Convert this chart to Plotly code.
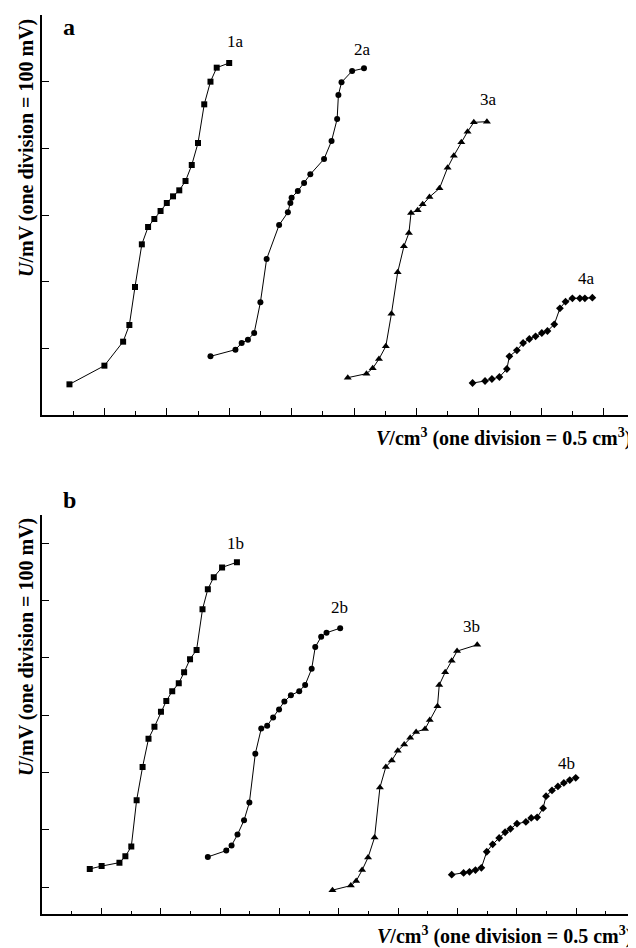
import plotly.graph_objects as go

# ---------------- data (V in cm3, U in mV) ----------------
# Panel a
v_1a = [0.22, 0.50, 0.65, 0.70, 0.745, 0.80, 0.85, 0.90, 0.95, 1.00, 1.05, 1.10, 1.15, 1.20, 1.25, 1.30, 1.35, 1.40, 1.50]
u_1a = [46, 74, 110, 135, 192, 256, 282, 294, 306, 318, 328, 337, 351, 375, 408, 466, 500, 521, 528]

v_2a = [1.35, 1.55, 1.60, 1.65, 1.70, 1.75, 1.80, 1.90, 1.97, 1.99, 2.00, 2.05, 2.10, 2.15, 2.26, 2.32, 2.365, 2.375, 2.40, 2.485, 2.58]
u_2a = [88, 98, 108, 113, 123, 169, 234, 285, 304, 318, 326, 336, 348, 361, 384, 411, 444, 480, 499, 516, 520]

v_3a = [2.45, 2.60, 2.65, 2.70, 2.755, 2.80, 2.85, 2.90, 2.94, 2.957, 3.01, 3.05, 3.105, 3.185, 3.25, 3.30, 3.36, 3.41, 3.46, 3.565]
u_3a = [56, 62, 70, 84, 103, 152, 214, 253, 273, 303, 307, 316, 327, 340, 371, 389, 409, 425, 439, 440]

v_4a = [3.45, 3.55, 3.605, 3.665, 3.725, 3.745, 3.805, 3.855, 3.905, 3.955, 4.005, 4.05, 4.105, 4.15, 4.195, 4.25, 4.31, 4.35, 4.41]
u_4a = [48, 51, 54, 57, 69, 88, 97, 108, 114, 118, 123, 126, 136, 160, 170, 175, 175, 175, 176]

# Panel b
v_1b = [0.40, 0.50, 0.65, 0.70, 0.75, 0.795, 0.845, 0.895, 0.945, 1.00, 1.045, 1.095, 1.15, 1.195, 1.245, 1.30, 1.35, 1.395, 1.445, 1.515, 1.64]
u_1b = [32, 37, 43, 54, 71, 152, 210, 259, 280, 306, 325, 342, 356, 375, 398, 414, 485, 520, 541, 558, 567]

v_2b = [1.395, 1.55, 1.595, 1.645, 1.70, 1.745, 1.795, 1.845, 1.895, 1.945, 1.995, 2.04, 2.095, 2.165, 2.215, 2.27, 2.30, 2.35, 2.395, 2.51]
u_2b = [53, 64, 73, 92, 117, 148, 233, 277, 282, 296, 310, 324, 335, 342, 353, 381, 419, 437, 444, 452]

v_3b = [2.445, 2.60, 2.645, 2.695, 2.745, 2.80, 2.845, 2.895, 2.945, 2.995, 3.05, 3.10, 3.15, 3.225, 3.265, 3.33, 3.345, 3.395, 3.45, 3.495, 3.665]
u_3b = [-5, 3, 11, 30, 52, 87, 174, 210, 221, 238, 249, 261, 271, 276, 292, 316, 353, 375, 395, 412, 423]

v_4b = [3.45, 3.55, 3.60, 3.65, 3.70, 3.745, 3.795, 3.85, 3.90, 3.945, 4.00, 4.075, 4.12, 4.17, 4.22, 4.245, 4.295, 4.345, 4.395, 4.445, 4.495]
u_4b = [22, 25, 27, 30, 34, 62, 75, 86, 96, 102, 111, 114, 121, 122, 138, 159, 169, 176, 182, 187, 191]

labels_a = ["1a", "2a", "3a", "4a"]
labels_b = ["1b", "2b", "3b", "4b"]
symbols = ["square", "circle", "triangle-up", "diamond"]
marker_sizes = [6, 6, 7, 6]

# the page body has an 8px margin, so the figure is offset by 8px
OFF = 8
W, H = 636 - OFF, 948 - OFF


def px(x):
    return (x - OFF) / W


def py(y):
    return 1 - (y - OFF) / H


fig = go.Figure()

series_a = [(v_1a, u_1a), (v_2a, u_2a), (v_3a, u_3a), (v_4a, u_4a)]
series_b = [(v_1b, u_1b), (v_2b, u_2b), (v_3b, u_3b), (v_4b, u_4b)]

for (v, u), sym, ms, name in zip(series_a, symbols, marker_sizes, labels_a):
    fig.add_trace(go.Scatter(x=v, y=u, mode="lines+markers", name=name,
                             line=dict(color="black", width=1),
                             marker=dict(symbol=sym, size=ms, color="black"),
                             xaxis="x", yaxis="y", showlegend=False))
for (v, u), sym, ms, name in zip(series_b, symbols, marker_sizes, labels_b):
    fig.add_trace(go.Scatter(x=v, y=u, mode="lines+markers", name=name,
                             line=dict(color="black", width=1),
                             marker=dict(symbol=sym, size=ms, color="black"),
                             xaxis="x2", yaxis="y2", showlegend=False))

axis_common = dict(showgrid=False, zeroline=False, showticklabels=False,
                   showline=True, linecolor="black", linewidth=1.5,
                   ticks="inside", ticklen=7, tickcolor="black", tickwidth=1.3)

xa = dict(axis_common, range=[0, (636 - 42) / 124.8], tick0=0, dtick=0.5,
          minor=dict(dtick=0.25, tick0=0, ticks="inside", ticklen=4, tickcolor="black", tickwidth=1.3),
          domain=[px(42), 1], anchor="y")
ya = dict(axis_common, range=[0, 600], tick0=0, dtick=100,
          domain=[py(415), py(15)], anchor="x")
xb = dict(axis_common, range=[0, (636 - 42.3) / 118.67], tick0=0, dtick=0.5,
          minor=dict(dtick=0.25, tick0=0, ticks="inside", ticklen=4, tickcolor="black", tickwidth=1.3),
          domain=[px(42.3), 1], anchor="y2")
yb = dict(axis_common, range=[-47.1, 649.4], tick0=0, dtick=100,
          domain=[py(914.3), py(515)], anchor="x2")

serif = "Liberation Serif, Times New Roman, serif"

ann = []
# curve labels (data coordinates)
label_pos_a = [(1.55, 560), (2.57, 548), (3.58, 473), (4.36, 205)]
label_pos_b = [(1.625, 600), (2.505, 488), (3.62, 455), (4.42, 216)]
for t, (x, y) in zip(labels_a, label_pos_a):
    ann.append(dict(text=t, x=x, y=y, xref="x", yref="y", showarrow=False,
                    font=dict(family=serif, size=17, color="black")))
for t, (x, y) in zip(labels_b, label_pos_b):
    ann.append(dict(text=t, x=x, y=y, xref="x2", yref="y2", showarrow=False,
                    font=dict(family=serif, size=17, color="black")))

# panel letters
ann.append(dict(text="<b>a</b>", x=px(69), y=py(27), xref="paper", yref="paper",
                showarrow=False, xanchor="center", yanchor="middle",
                font=dict(family=serif, size=24, color="black")))
ann.append(dict(text="<b>b</b>", x=px(69), y=py(500), xref="paper", yref="paper",
                showarrow=False, xanchor="center", yanchor="middle",
                font=dict(family=serif, size=24, color="black")))

ytitle = "<b><i>U</i>/mV (one division = 100 mV)</b>"
xtitle = "<b><i>V</i>/cm<sup>3</sup> (one division = 0.5 cm<sup>3</sup>)</b>"
for yc in (148, 647):
    ann.append(dict(text=ytitle, x=px(26), y=py(yc), xref="paper", yref="paper",
                    textangle=-90, showarrow=False, xanchor="center", yanchor="middle",
                    font=dict(family=serif, size=20, color="black")))
for yc, xr in ((438, 633), (935, 634)):
    ann.append(dict(text=xtitle, x=px(xr), y=py(yc), xref="paper", yref="paper",
                    showarrow=False, xanchor="right", yanchor="middle",
                    font=dict(family=serif, size=20, color="black")))

fig.update_layout(width=W, height=H, margin=dict(l=0, r=0, t=0, b=0),
                  paper_bgcolor="white", plot_bgcolor="white",
                  xaxis=xa, yaxis=ya, xaxis2=xb, yaxis2=yb,
                  annotations=ann)

fig.write_html("out.html")
